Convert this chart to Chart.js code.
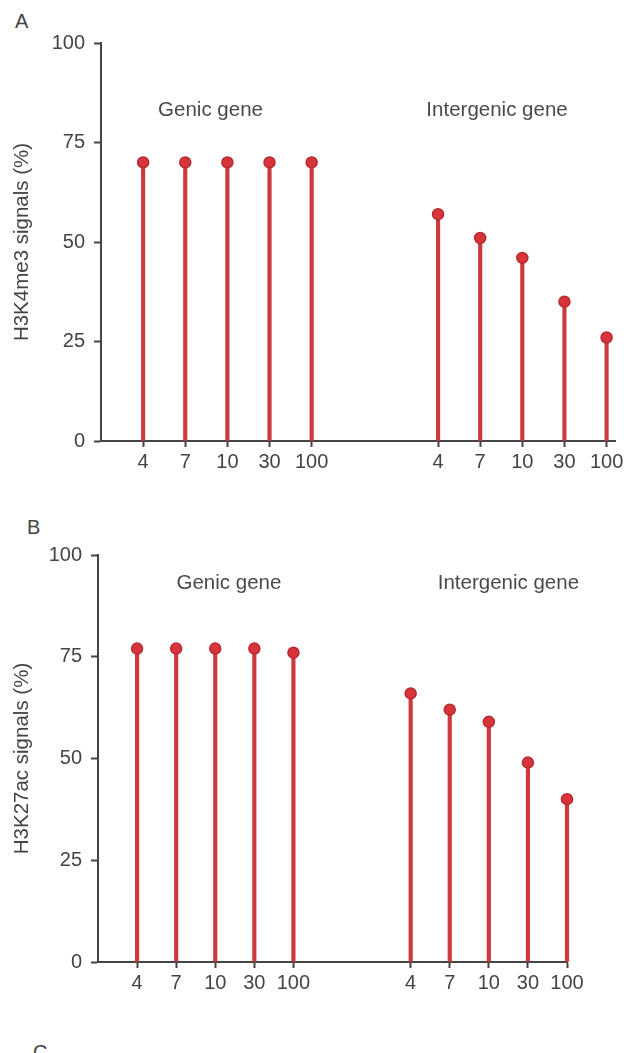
<!DOCTYPE html>
<html>
<head>
<meta charset="utf-8">
<script src="https://cdn.jsdelivr.net/npm/chart.js@4.4.1/dist/chart.umd.min.js"></script>
<style>
  html, body { margin: 0; padding: 0; background: #fff; }
  body { width: 636px; height: 1053px; position: relative; overflow: hidden; font-family: "Liberation Sans", Arial, sans-serif; }
  .wrap { position: absolute; left: 0; width: 636px; }
  .panel-letter { position: absolute; font-size: 20px; line-height: 20px; color: #444; }
</style>
</head>
<body>
<div class="panel-letter" style="left:15px; top:11px;">A</div>
<div class="panel-letter" style="left:27px; top:517px;">B</div>
<div class="panel-letter" style="left:33px; top:1042px;">C</div>
<div class="wrap" style="top:0; height:480px;"><canvas id="chartA" width="636" height="480"></canvas></div>
<div class="wrap" style="top:490px; height:520px;"><canvas id="chartB" width="636" height="520"></canvas></div>
<script>
// ---- data ----
const doses = ['4', '7', '10', '30', '100'];
const groups = ['Genic gene', 'Intergenic gene'];
const yTicks = [0, 25, 50, 75, 100];
const h3k4me3Genic = [70, 70, 70, 70, 70];
const h3k4me3Intergenic = [57, 51, 46, 35, 26];
const h3k27acGenic = [77, 77, 77, 77, 76];
const h3k27acIntergenic = [66, 62, 59, 49, 40];

// ---- style ----
const AXIS = '#444';
const STEM = '#cc3a3e';
const DOT = '#d8343b';
const DOT_BORDER = '#b92a30';
const FONT = 'Liberation Sans';

// x positions: group 1 at 1..5, group 2 at 8..12 (gap between groups)
const groupStart = [1, 8];
function positions() {
  const out = [];
  groupStart.forEach(s => doses.forEach((d, i) => out.push(s + i)));
  return out;
}
function labelFor(v) {
  for (const s of groupStart) {
    const i = Math.round(v) - s;
    if (i >= 0 && i < doses.length) return doses[i];
  }
  return '';
}
function points(genic, inter) {
  const pts = [];
  genic.forEach((v, i) => pts.push({ x: groupStart[0] + i, y: v }));
  inter.forEach((v, i) => pts.push({ x: groupStart[1] + i, y: v }));
  return pts;
}

const groupLabelPlugin = {
  id: 'groupLabels',
  afterDraw(chart, args, opts) {
    const { ctx, scales } = chart;
    ctx.save();
    ctx.font = `${opts.size}px "${FONT}"`;
    ctx.fillStyle = '#4a4a4a';
    ctx.textAlign = 'center';
    ctx.textBaseline = 'middle';
    opts.items.forEach(it => {
      ctx.fillText(it.text, scales.x.getPixelForValue(it.x), scales.y.getPixelForValue(it.y));
    });
    ctx.restore();
  }
};

function makeChart(id, cfg) {
  const pts = points(cfg.genic, cfg.inter);
  return new Chart(document.getElementById(id), {
    data: {
      datasets: [
        {
          type: 'scatter',
          data: pts,
          order: 0,
          clip: false,
          pointRadius: 5.5,
          pointBackgroundColor: DOT,
          pointBorderColor: DOT_BORDER,
          pointBorderWidth: 1.5,
          showLine: false
        },
        {
          type: 'bar',
          data: pts,
          order: 1,
          clip: false,
          backgroundColor: STEM,
          borderWidth: 0,
          barThickness: 3.5,
          grouped: false
        }
      ]
    },
    options: {
      responsive: false,
      animation: false,
      events: [],
      layout: { padding: { top: cfg.padTop, right: cfg.padRight, left: 0, bottom: 0 } },
      plugins: {
        legend: { display: false },
        tooltip: { enabled: false },
        groupLabels: {
          size: 20.5,
          items: [
            { text: groups[0], x: cfg.labelX[0], y: cfg.labelY },
            { text: groups[1], x: cfg.labelX[1], y: cfg.labelY }
          ]
        }
      },
      scales: {
        x: {
          type: 'linear',
          min: 0,
          max: cfg.xMax,
          offset: false,
          afterBuildTicks(scale) { scale.ticks = positions().map(v => ({ value: v })); },
          afterFit(scale) { scale.height = cfg.xHeight; },
          border: { display: true, color: AXIS, width: 2 },
          grid: { offset: false, drawOnChartArea: false, drawTicks: true, tickLength: 6, tickColor: AXIS, tickWidth: 2 },
          ticks: {
            autoSkip: false,
            maxRotation: 0,
            padding: 3,
            color: AXIS,
            font: { family: FONT, size: 20 },
            callback: v => labelFor(v)
          }
        },
        y: {
          min: 0,
          max: 100,
          afterBuildTicks(scale) { scale.ticks = yTicks.map(v => ({ value: v })); },
          afterFit(scale) { scale.width = cfg.yWidth; },
          border: { display: true, color: AXIS, width: 2 },
          grid: { offset: false, drawOnChartArea: false, drawTicks: true, tickLength: 7, tickColor: AXIS, tickWidth: 2 },
          ticks: { padding: 9, color: AXIS, font: { family: FONT, size: 20 } },
          title: {
            display: true,
            text: cfg.title,
            color: AXIS,
            font: { family: FONT, size: 20.5 },
            padding: { top: 10, bottom: 0 }
          }
        }
      }
    },
    plugins: [groupLabelPlugin]
  });
}

makeChart('chartA', {
  genic: h3k4me3Genic, inter: h3k4me3Intergenic,
  title: 'H3K4me3 signals (%)',
  padTop: 43, padRight: 21, xHeight: 39, yWidth: 101, xMax: 12.2,
  labelX: [2.6, 9.4], labelY: 83
});
makeChart('chartB', {
  genic: h3k27acGenic, inter: h3k27acIntergenic,
  title: 'H3K27ac signals (%)',
  padTop: 65, padRight: 69, xHeight: 48, yWidth: 98, xMax: 12,
  labelX: [3.35, 10.5], labelY: 93
});
</script>
</body>
</html>
